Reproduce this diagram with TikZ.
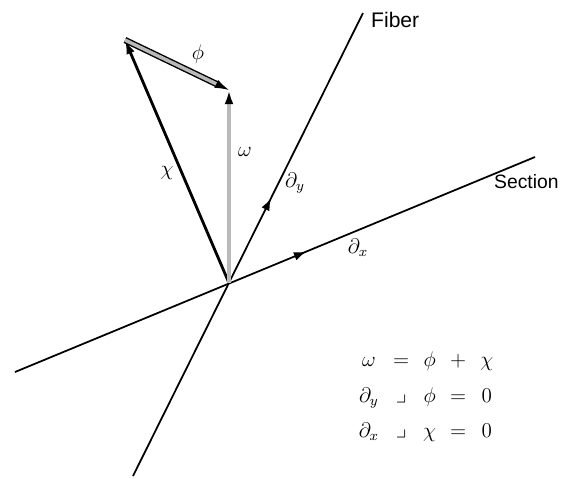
\documentclass[tikz,border=0pt]{standalone}
\usepackage{amsmath,amssymb}
\usepackage{fontspec}
\setsansfont{Liberation Sans}
\usetikzlibrary{arrows.meta,decorations.markings}

\begin{document}
\begin{tikzpicture}[x=0.02cm,y=-0.02cm,
  axis/.style={line width=1pt},
  vec/.style={-{Latex[length=8pt,width=5pt,color=black]}},
  midarrow/.style={postaction={decorate},decoration={markings,
    mark=at position #1 with {\arrow{Latex[length=7pt,width=5pt]}}}},
  lbl/.style={font=\sffamily\fontsize{12}{14}\selectfont},
  sym/.style={font=\large}]

\useasboundingbox (0,0) rectangle (564,478);

\coordinate (O)  at (229,283);
\coordinate (fb) at (133,476);
\coordinate (ft) at (363,13);
\coordinate (sl) at (15,372);
\coordinate (sr) at (535,157);

\coordinate (chitip) at (125,40);
\coordinate (omtip)  at (229,90);

% fiber and section
\draw[axis,midarrow=0.6]  (fb)--(ft);
\draw[axis,midarrow=0.56] (sl)--(sr);

\node[lbl,anchor=west] (fiber)   at (365,20)  {Fiber};
\node[lbl,anchor=west,inner sep=1pt,font=\sffamily\fontsize{11}{13}\selectfont]
  (section) at (492,182) {Section};

% vectors
\draw[vec,line width=1.6pt] (O)--(chitip);
\draw[vec,line width=2.8pt,draw=gray!55] (O)--(omtip);
\draw[vec,line width=0.8pt,double=gray!55,double distance=2pt] (chitip)--(omtip);

\node[sym] (phil) at (198,54)  {$\phi$};
\node[sym] (chil) at (167,173) {$\chi$};
\node[sym] (oml)  at (245,152) {$\omega$};
\node[sym] (dyl)  at (295,183) {$\partial_y$};
\node[sym] (dxl)  at (358,248) {$\partial_x$};

% relations
\node[sym] (eqs) at (426,395) {$\arraycolsep=4pt\renewcommand{\arraystretch}{1.45}
  \begin{array}{ccccc}
  \omega & = & \phi & + & \chi\\
  \partial_y & \lrcorner & \phi & = & 0\\
  \partial_x & \lrcorner & \chi & = & 0
  \end{array}$};

\end{tikzpicture}
\end{document}
